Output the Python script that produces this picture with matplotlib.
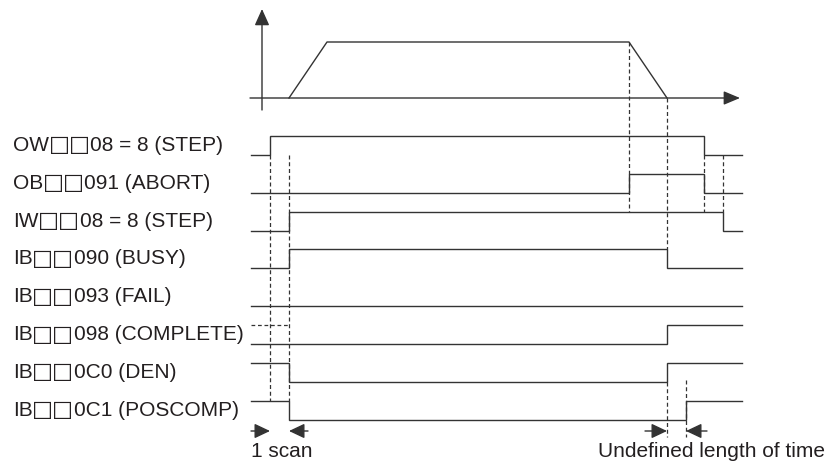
import matplotlib
matplotlib.use('Agg')
import matplotlib.pyplot as plt

# signals of the timing chart, top to bottom
signal_names = ['OW\u25a1\u25a108 = 8 (STEP)', 'OB\u25a1\u25a1091 (ABORT)',
                'IW\u25a1\u25a108 = 8 (STEP)', 'IB\u25a1\u25a1090 (BUSY)',
                'IB\u25a1\u25a1093 (FAIL)', 'IB\u25a1\u25a1098 (COMPLETE)',
                'IB\u25a1\u25a10C0 (DEN)', 'IB\u25a1\u25a10C1 (POSCOMP)']
start_levels = [0, 0, 0, 0, 0, 0, 1, 1]
edge_times = [[270, 704], [629, 704], [289, 723], [289, 667],
              [], [667], [289, 667], [289, 686]]
t_start, t_end = 251, 742

# speed profile in the upper panel
profile_t = [289, 327, 629, 667]
profile_v = [0, 1, 1, 0]

LINE = '#333333'
TEXT = '#231f20'
FONT = ['Liberation Sans', 'DejaVu Sans']
FS = 15

fig = plt.figure(figsize=(8.36, 4.68), dpi=100)
ax = fig.add_axes([0, 0, 1, 1])
ax.set_xlim(0, 836)
ax.set_ylim(468, 0)
ax.axis('off')
renderer = fig.canvas.get_renderer()

row0, pitch, amp = 136, 37.8, 19
prof_base, prof_h = 98, 56


def level_y(row, level):
    return row0 + row * pitch + (1 - level) * amp


def prof_y(v):
    return prof_base - v * prof_h


def arrow(x0, y0, x1, y1, hl=0.8, hw=0.45):
    ax.annotate('', xy=(x1, y1), xytext=(x0, y0),
                arrowprops=dict(arrowstyle='-|>,head_length=%s,head_width=%s' % (hl, hw),
                                lw=1.0, color=LINE, shrinkA=0, shrinkB=0,
                                mutation_scale=10))


def right_edge(t):
    bb = t.get_window_extent(renderer)
    return ax.transData.inverted().transform((bb.x1, bb.y0))[0]


def label(x, y, s):
    # the white squares use DejaVu's larger glyph
    pre, sq, post = s[:2], s[2:4], s[4:]
    t = ax.text(x, y, pre, ha='left', va='baseline', fontsize=FS,
                color=TEXT, family=FONT)
    t = ax.text(right_edge(t) - 0.5, y + 0.5, sq, ha='left', va='baseline',
                fontsize=FS + 1, color=TEXT, family='DejaVu Sans')
    ax.text(right_edge(t) - 0.5, y, post, ha='left', va='baseline', fontsize=FS,
            color=TEXT, family=FONT)


# upper panel axes and profile
arrow(262, 110, 262, 9, 1.0, 0.45)
arrow(250, prof_base, 740, prof_base, 1.0, 0.42)
ax.plot(profile_t, [prof_y(v) for v in profile_v], color=LINE, lw=1.0)

# signal waveforms
for i, name in enumerate(signal_names):
    xs, ys = [t_start], [level_y(i, start_levels[i])]
    lvl = start_levels[i]
    for t in edge_times[i]:
        xs += [t, t]
        ys += [level_y(i, lvl), level_y(i, 1 - lvl)]
        lvl = 1 - lvl
    xs.append(t_end)
    ys.append(level_y(i, lvl))
    ax.plot(xs, ys, color=LINE, lw=1.0, solid_joinstyle='miter')
    label(13, level_y(i, 0.5) + 5.5, name)

# COMPLETE undefined before start
ax.plot([t_start, 289], [level_y(5, 1)] * 2, color=LINE, lw=0.9, ls=(0, (3, 2.2)))

# dashed guide lines
dash = dict(color=LINE, lw=0.9, ls=(0, (3.2, 2.2)))
arrow_y = 431
ax.plot([270, 270], [level_y(0, 0), level_y(7, 1)], **dash)
ax.plot([289, 289], [level_y(0, 0), level_y(7, 1)], **dash)
ax.plot([629, 629], [prof_y(1), level_y(2, 1)], **dash)
ax.plot([667, 667], [prof_y(0), level_y(3, 1)], **dash)
ax.plot([667, 667], [level_y(6, 0), arrow_y + 6], **dash)
ax.plot([686, 686], [level_y(6, 0) - 2, arrow_y + 6], **dash)
ax.plot([704, 704], [level_y(0, 0), level_y(2, 1)], **dash)
ax.plot([723, 723], [level_y(0, 0), level_y(2, 1)], **dash)

# interval arrows
arrow(251, arrow_y, 270, arrow_y, 0.95, 0.45)
arrow(308, arrow_y, 289, arrow_y, 0.95, 0.45)
arrow(645, arrow_y, 667, arrow_y, 0.95, 0.45)
arrow(707, arrow_y, 686, arrow_y, 0.95, 0.45)
ax.text(251, 457, '1 scan', ha='left', va='baseline', fontsize=FS,
        color=TEXT, family=FONT)
ax.text(598, 457, 'Undefined length of time', ha='left', va='baseline',
        fontsize=FS, color=TEXT, family=FONT)

fig.savefig('out.png', dpi=100)
